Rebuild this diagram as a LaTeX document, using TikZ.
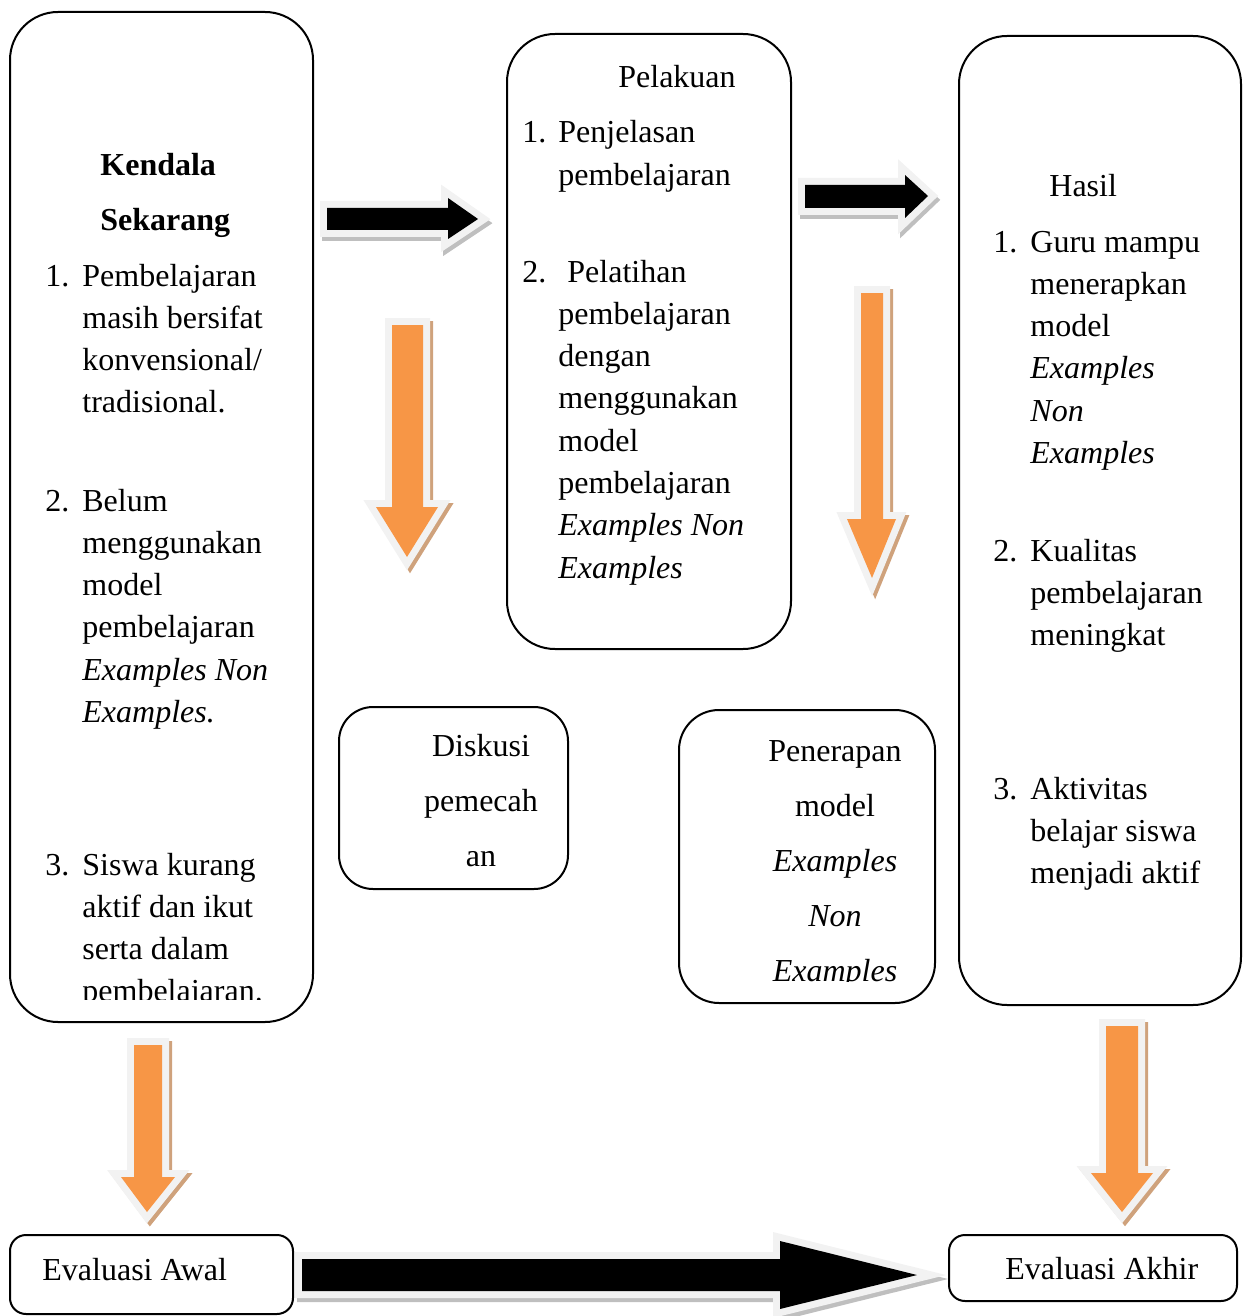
\documentclass[tikz,border=0pt]{standalone}
\usepackage{fontspec}
\setmainfont{Liberation Serif}
\usetikzlibrary{fit}
\definecolor{orng}{HTML}{F79646}
\definecolor{outl}{HTML}{F2F2F2}
\definecolor{shdk}{HTML}{BFBFBF}
\definecolor{shor}{HTML}{CFA27C}
\newcommand\tx{\fontsize{16pt}{21.15pt}\selectfont}
\newcommand\txw{\fontsize{16pt}{27.6pt}\selectfont}
\newcommand\blockarr[4]{%
  \path[fill=#3, draw=#3, line width=7pt, shift={#4}] #1;
  \path[fill=outl, draw=outl, line width=7pt] #1;
  \path[fill=#2] #1;}
\begin{document}
\begin{tikzpicture}[x=0.5pt, y=-0.5pt,
  box/.style={draw, line width=1pt, rounded corners=24pt, inner sep=0pt},
  txt/.style={anchor=base west, inner sep=0pt, font=\tx},
  ctxt/.style={anchor=base, inner sep=0pt, font=\txw}]
\useasboundingbox (0,0) rectangle (1249,1316);

% boxes
\node[box, fit={(10,12) (313,1022)}] (kendala) {};
\node[box, fit={(507,34) (791,649)}] (pelakuan) {};
\node[box, fit={(959,36) (1241,1005)}] (hasil) {};
\node[box, rounded corners=17pt, fit={(339,707) (568,889)}] (diskusi) {};
\node[box, rounded corners=20pt, fit={(679,710) (935,1003)}] (penerapan) {};
\node[box, rounded corners=8pt, fit={(10,1235) (293,1314)}] (evawal) {};
\node[box, rounded corners=8pt, fit={(949,1235) (1237,1301)}] (evakhir) {};

% Kendala Sekarang
\node[txt, font=\tx\bfseries] (k0a) at (100,176) {Kendala};
\node[txt, font=\tx\bfseries] (k0b) at (100,231) {Sekarang};
\node[txt] (kn1) at (45,286) {1.};
\node[txt] (k1) at (82,286) {\parbox[t]{150pt}{\raggedright Pembelajaran\\masih bersifat\\konvensional/\\tradisional.}};
\node[txt] (kn2) at (45,511) {2.};
\node[txt] (k2) at (82,511) {\parbox[t]{150pt}{\raggedright Belum\\menggunakan\\model\\pembelajaran\\\textit{Examples Non}\\\textit{Examples.}}};
\begin{scope}
\clip (0,0) rectangle (1249,999);
\node[txt] (kn3) at (45,875) {3.};
\node[txt] (k3) at (82,875) {\parbox[t]{150pt}{\raggedright Siswa kurang\\aktif dan ikut\\serta dalam\\pembelajaran.}};
\end{scope}

% Pelakuan
\node[anchor=base, inner sep=0pt, font=\tx] (p0) at (677,88) {Pelakuan};
\node[txt] (pn1) at (522,143) {1.};
\node[txt] (p1) at (558,143) {\parbox[t]{150pt}{\raggedright Penjelasan\\pembelajaran}};
\node[txt] (pn2) at (522,282) {2.};
\node[txt] (p2) at (558,282) {\parbox[t]{150pt}{\raggedright \hspace*{4.5pt}Pelatihan\\pembelajaran\\dengan\\menggunakan\\model\\pembelajaran\\\textit{Examples Non}\\\textit{Examples}}};

% Hasil
\node[txt] (h0) at (1049,197) {Hasil};
\node[txt] (hn1) at (993,252) {1.};
\node[txt] (h1) at (1030,252) {\parbox[t]{150pt}{\raggedright Guru mampu\\menerapkan\\model\\\textit{Examples}\\\textit{Non}\\\textit{Examples}}};
\node[txt] (hn2) at (993,561) {2.};
\node[txt] (h2) at (1030,561) {\parbox[t]{150pt}{\raggedright Kualitas\\pembelajaran\\meningkat}};
\node[txt] (hn3) at (993,799) {3.};
\node[txt] (h3) at (1030,799) {\parbox[t]{150pt}{\raggedright Aktivitas\\belajar siswa\\menjadi aktif}};

% Diskusi
\node[ctxt] (d0) at (481,756) {\parbox[t]{150pt}{\centering Diskusi\\pemecah\\an}};

% Penerapan
\begin{scope}
\clip (0,0) rectangle (1249,981);
\node[ctxt] (e0) at (835,761) {\parbox[t]{150pt}{\centering Penerapan\\model\\\textit{Examples}\\\textit{Non}\\\textit{Examples}}};
\end{scope}

% Evaluasi
\node[txt] (ea) at (42,1280) {Evaluasi Awal};
\node[txt] (ek) at (1005,1279) {Evaluasi Akhir};

% black block arrows
\blockarr{(327,208) -- (448,208) -- (448,198) -- (478,219) -- (448,239) -- (448,230) -- (327,230) -- cycle}{black}{shdk}{(2,4)}
\blockarr{(805,185) -- (905,185) -- (905,175) -- (928,196) -- (905,218) -- (905,208) -- (805,208) -- cycle}{black}{shdk}{(2,4)}
\blockarr{(302,1259) -- (780,1259) -- (780,1241) -- (917,1275) -- (780,1309) -- (780,1291) -- (302,1291) -- cycle}{black}{shdk}{(2,4)}

% orange block arrows
\blockarr{(392,325) -- (423,325) -- (423,507) -- (438,507) -- (407,557) -- (376,507) -- (392,507) -- cycle}{orng}{shor}{(3,3)}
\blockarr{(861,293) -- (883,293) -- (883,519) -- (896,519) -- (872,578) -- (847,519) -- (861,519) -- cycle}{orng}{shor}{(3,3)}
\blockarr{(134,1045) -- (162,1045) -- (162,1177) -- (175,1177) -- (147,1212) -- (121,1177) -- (134,1177) -- cycle}{orng}{shor}{(3,3)}
\blockarr{(1106,1026) -- (1138,1026) -- (1138,1173) -- (1153,1173) -- (1122,1212) -- (1091,1173) -- (1106,1173) -- cycle}{orng}{shor}{(3,3)}
\end{tikzpicture}
\end{document}
